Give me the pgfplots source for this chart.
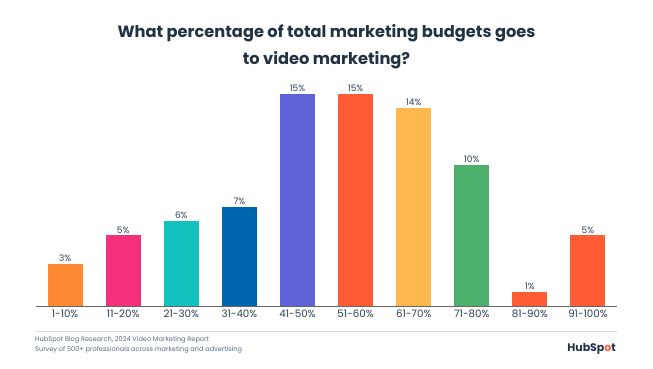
\documentclass[border=0pt]{standalone}
\usepackage{pgfplots}
\pgfplotsset{compat=1.18}
\usepackage{fontspec}
\setmainfont{Poppins}
\definecolor{titlec}{HTML}{213343}
\definecolor{textc}{HTML}{2D3E50}
\definecolor{footc}{HTML}{516F90}
\definecolor{cA}{HTML}{FF8A33}
\definecolor{cB}{HTML}{F2317A}
\definecolor{cC}{HTML}{13C1BF}
\definecolor{cD}{HTML}{0065AF}
\definecolor{cE}{HTML}{5D63D6}
\definecolor{cF}{HTML}{FF5C35}
\definecolor{cG}{HTML}{FFB84D}
\definecolor{cH}{HTML}{4CAF6B}
\begin{document}
\begin{tikzpicture}[x=1bp,y=1bp]
\fill[white] (0,0) rectangle (653,368);
\useasboundingbox (0,0) rectangle (653,368);
\node[font=\bfseries\fontsize{16.3}{19}\selectfont, text=titlec] at (326.5,335) {What percentage of total marketing budgets goes};
\node[font=\bfseries\fontsize{16.3}{19}\selectfont, text=titlec] at (326.5,308) {to video marketing?};
\begin{axis}[
  at={(36bp,62bp)}, anchor=south west, scale only axis,
  width=581bp, height=226bp,
  xmin=-0.5, xmax=9.5, ymin=0, ymax=16,
  ytick={0,2,...,16}, yticklabels={},
  ymajorgrids, grid style={draw=gray!10, line width=0.6pt},
  axis x line=bottom, axis y line=none,
  x axis line style={draw=black!60, line width=0.8pt, -},
  xtick={0,...,9},
  xticklabels={1-10\%,11-20\%,21-30\%,31-40\%,41-50\%,51-60\%,61-70\%,71-80\%,81-90\%,91-100\%},
  major tick length=0pt,
  xticklabel style={font=\fontsize{10.3}{12}\selectfont, text=textc, yshift=-0.5bp},
  ybar, bar width=35bp, bar shift=0pt,
  every axis plot/.append style={draw=none},
  nodes near coords={\pgfmathprintnumber{\pgfplotspointmeta}\%},
  /pgf/number format/assume math mode=true,
  every node near coord/.append style={font=\fontsize{9}{10}\selectfont, text=textc, inner sep=2pt},
  clip=false,
]
\addplot[fill=cA] coordinates {(0,3)};
\addplot[fill=cB] coordinates {(1,5)};
\addplot[fill=cC] coordinates {(2,6)};
\addplot[fill=cD] coordinates {(3,7)};
\addplot[fill=cE] coordinates {(4,15)};
\addplot[fill=cF] coordinates {(5,15)};
\addplot[fill=cG] coordinates {(6,14)};
\addplot[fill=cH] coordinates {(7,10)};
\addplot[fill=cF] coordinates {(8,1)};
\addplot[fill=cF] coordinates {(9,5)};
\end{axis}
\draw[gray!30, line width=0.8pt] (35,37) -- (617,37);
\node[anchor=west, font=\fontsize{6.6}{8}\selectfont, text=footc, inner sep=0] at (35,28) {HubSpot Blog Research, 2024 Video Marketing Report};
\node[anchor=west, font=\fontsize{6.6}{8}\selectfont, text=footc, inner sep=0] at (35,18.5) {Survey of 500+ professionals across marketing and advertising};
\node[anchor=east, font=\bfseries\fontsize{11}{13}\selectfont, text=titlec, inner sep=0] at (616,19.5) {HubSp{\color{cF}o}t};
\end{tikzpicture}
\end{document}
